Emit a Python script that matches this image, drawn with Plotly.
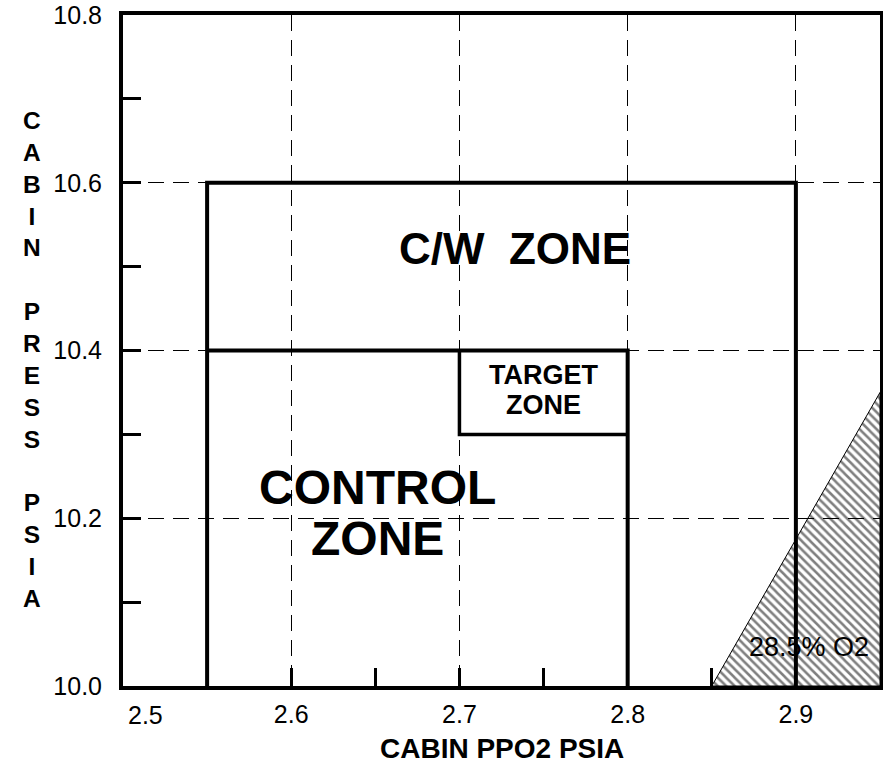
"""Cabin pressure vs PPO2 control zones chart."""

import plotly.graph_objects as go

# zone outlines (psia)
CW_ZONE_X = [2.55, 2.55, 2.9, 2.9]
CW_ZONE_Y = [10.0, 10.6, 10.6, 10.0]
CONTROL_ZONE_X = [2.55, 2.8, 2.8]
CONTROL_ZONE_Y = [10.4, 10.4, 10.0]
TARGET_ZONE_X = [2.7, 2.7, 2.8]
TARGET_ZONE_Y = [10.4, 10.3, 10.3]

# 28.5% O2 limit region
O2_LIMIT_X = [2.85, 2.95, 2.95, 2.85]
O2_LIMIT_Y = [10.0, 10.35, 10.0, 10.0]

X_TICKS = [2.6, 2.7, 2.8, 2.9]
X_TICK_LABELS = ["2.6", "2.7", "2.8", "2.9"]
Y_TICKS = [10.0, 10.2, 10.4, 10.6, 10.8]
Y_TICK_LABELS = ["10.0", "10.2", "10.4", "10.6", "10.8"]

FONT = "Liberation Sans, Arial, sans-serif"

fig = go.Figure()

fig.add_trace(go.Scatter(
	x=O2_LIMIT_X, y=O2_LIMIT_Y, mode="lines", fill="toself",
	fillcolor="rgba(0,0,0,0)",
	fillpattern=dict(shape="\\", size=6, solidity=0.42, fgcolor="black", bgcolor="rgba(0,0,0,0)"),
	line=dict(color="black", width=1), hoverinfo="skip",
))
for xs, ys, w in [
	(CW_ZONE_X, CW_ZONE_Y, 4),
	(CONTROL_ZONE_X, CONTROL_ZONE_Y, 4),
	(TARGET_ZONE_X, TARGET_ZONE_Y, 3.5),
]:
	fig.add_trace(go.Scatter(x=xs, y=ys, mode="lines", line=dict(color="black", width=w), hoverinfo="skip"))

def label(text, x, y, size, bold=True):
	fig.add_annotation(
		x=x, y=y, text=f"<b>{text}</b>" if bold else text, showarrow=False,
		font=dict(family=FONT, size=size, color="black"),
	)

label("C/W  ZONE", 2.733, 10.522, 44)
label("CONTROL", 2.651, 10.237, 48)
label("ZONE", 2.651, 10.176, 48)
label("TARGET", 2.75, 10.371, 27)
label("ZONE", 2.75, 10.335, 27)
label("28.5% O2", 2.9076, 10.0465, 27, bold=False)

# first x tick label sits shifted right of the corner
fig.add_annotation(
	x=2.5, y=0, yref="paper", yanchor="top", xshift=22, yshift=-13,
	text="2.5", showarrow=False, font=dict(family=FONT, size=25, color="black"),
)
# axis titles
fig.add_annotation(
	x=0.5, xref="paper", y=0, yref="paper", yanchor="middle", yshift=-62,
	text="<b>CABIN PPO2 PSIA</b>", showarrow=False,
	font=dict(family=FONT, size=28, color="black"),
)
fig.add_annotation(
	x=0, xref="paper", xshift=-102, y=0.5, yref="paper", yanchor="middle", yshift=-9,
	text="<b>" + "<br>".join("CABIN PRESS PSIA".replace(" ", "_")).replace("_", "") + "</b>",
	showarrow=False, font=dict(family=FONT, size=24.5, color="black"),
)

grid = dict(showgrid=True, gridcolor="black", gridwidth=1.2, griddash="16px,9px")
fig.update_xaxes(
	range=[2.5, 2.95], tickvals=X_TICKS, ticktext=X_TICK_LABELS,
	ticks="inside", ticklen=18, tickwidth=3, tickcolor="black",
	minor=dict(dtick=0.05, tick0=2.5, ticks="inside", ticklen=18, tickwidth=3, tickcolor="black", showgrid=False),
	showline=True, linecolor="black", linewidth=4, mirror=True, zeroline=False,
	ticklabelstandoff=3, automargin=False,
	tickfont=dict(family=FONT, size=25, color="black"), **grid,
)
fig.update_yaxes(
	range=[10.0, 10.8], tickvals=Y_TICKS, ticktext=Y_TICK_LABELS,
	ticks="inside", ticklen=18, tickwidth=3, tickcolor="black",
	minor=dict(dtick=0.1, tick0=10.0, ticks="inside", ticklen=18, tickwidth=3, tickcolor="black", showgrid=False),
	showline=True, linecolor="black", linewidth=4, mirror=True, zeroline=False,
	ticklabelstandoff=12, automargin=False,
	tickfont=dict(family=FONT, size=25, color="black"), **grid,
)
fig.update_layout(
	width=883, height=764,
	margin=dict(l=123, r=3, t=15, b=78, autoexpand=False),
	paper_bgcolor="white", plot_bgcolor="white",
	showlegend=False,
	font=dict(family=FONT, color="black"),
)

fig.write_html(
	"out.html",
	config={"displayModeBar": False},
	post_script="document.body.style.margin='0';document.body.style.overflow='hidden';",
)
